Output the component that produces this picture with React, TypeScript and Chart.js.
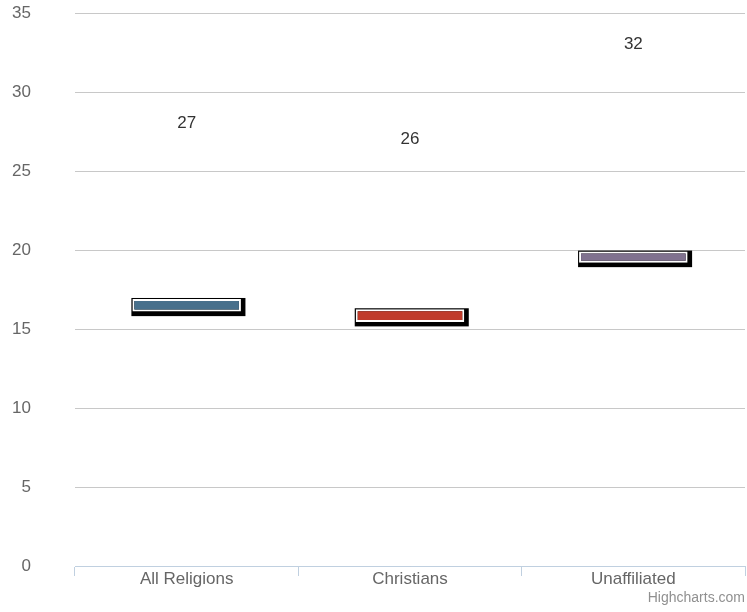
import React, { useEffect, useRef } from "react";
import { Chart, registerables } from "chart.js";

Chart.register(...registerables);

const categories = ["All Religions", "Christians", "Unaffiliated"];
const rangeLow = [16.1, 15.45, 19.2];
const rangeHigh = [16.9, 16.25, 19.9];
const labelValues = [27, 26, 32];
const barColors = ["#48708c", "#c03b2b", "#80728f"];
const yTicks = [0, 5, 10, 15, 20, 25, 30, 35];

const FONT = '"Liberation Sans", Arial, Helvetica, sans-serif';

const shadowPlugin = {
  id: "barShadow",
  beforeDatasetsDraw(chart: any) {
    const ctx = chart.ctx;
    const meta = chart.getDatasetMeta(0);
    ctx.save();
    ctx.fillStyle = "#000000";
    meta.data.forEach((el: any) => {
      const p = el.getProps(["x", "y", "base", "width"], true);
      const left = p.x - p.width / 2;
      const right = p.x + p.width / 2;
      const top = Math.min(p.y, p.base);
      const bottom = Math.max(p.y, p.base);
      ctx.fillRect(left - 1, top - 1, right - left + 5.5, bottom - top + 5.5);
    });
    ctx.restore();
  },
  afterDatasetsDraw(chart: any) {
    const ctx = chart.ctx;
    const meta = chart.getDatasetMeta(0);
    const yScale = chart.scales.y;
    ctx.save();
    ctx.fillStyle = "#333333";
    ctx.font = `17px ${FONT}`;
    ctx.textAlign = "center";
    ctx.textBaseline = "middle";
    meta.data.forEach((el: any, i: number) => {
      const p = el.getProps(["x"], true);
      const y = yScale.getPixelForValue(labelValues[i]) - 16;
      ctx.fillText(String(labelValues[i]), p.x, y);
    });
    ctx.restore();
  },
  afterDraw(chart: any) {
    const ctx = chart.ctx;
    ctx.save();
    ctx.fillStyle = "#909090";
    ctx.font = `14px ${FONT}`;
    ctx.textAlign = "right";
    ctx.textBaseline = "middle";
    ctx.fillText("Highcharts.com", 745, 598);
    ctx.restore();
  },
};

export default function App() {
  const ref = useRef<HTMLCanvasElement>(null);
  useEffect(() => {
    document.body.style.margin = "0";
    const chart = new Chart(ref.current!, {
      type: "bar",
      data: {
        labels: categories,
        datasets: [
          {
            data: categories.map((_, i) => [rangeLow[i], rangeHigh[i]]) as any,
            backgroundColor: barColors,
            borderColor: "#ffffff",
            borderWidth: 2,
            borderSkipped: false,
            categoryPercentage: 1,
            barPercentage: 0.486,
          },
        ],
      },
      options: {
        animation: false,
        responsive: false,
        maintainAspectRatio: false,
        layout: { padding: { top: 13, right: 2, left: 0, bottom: 0 } },
        plugins: { legend: { display: false }, tooltip: { enabled: false } },
        scales: {
          x: {
            grid: {
              display: true,
              drawOnChartArea: false,
              drawTicks: true,
              tickLength: 10,
              color: "#c0d0e0",
              offset: true,
            },
            border: { display: true, color: "#c0d0e0", width: 1 },
            ticks: {
              color: "#666666",
              font: { size: 17, family: FONT },
              padding: -7,
              maxRotation: 0,
            },
            afterFit(scale: any) {
              scale.height = 46;
            },
          },
          y: {
            min: 0,
            max: 35,
            afterBuildTicks(scale: any) {
              scale.ticks = yTicks.map((v) => ({ value: v }));
            },
            grid: {
              color: "#c8c8c8",
              drawTicks: true,
              tickLength: 44,
              tickColor: "rgba(0,0,0,0)",
            },
            border: { display: false },
            ticks: {
              color: "#666666",
              font: { size: 17, family: FONT },
              padding: 0,
            },
            afterFit(scale: any) {
              scale.width = 75;
            },
          },
        },
      },
      plugins: [shadowPlugin],
    });
    return () => chart.destroy();
  }, []);
  return (
    <div style={{ width: 747, height: 612 }}>
      <canvas ref={ref} width={747} height={612} style={{ display: "block" }} />
    </div>
  );
}
